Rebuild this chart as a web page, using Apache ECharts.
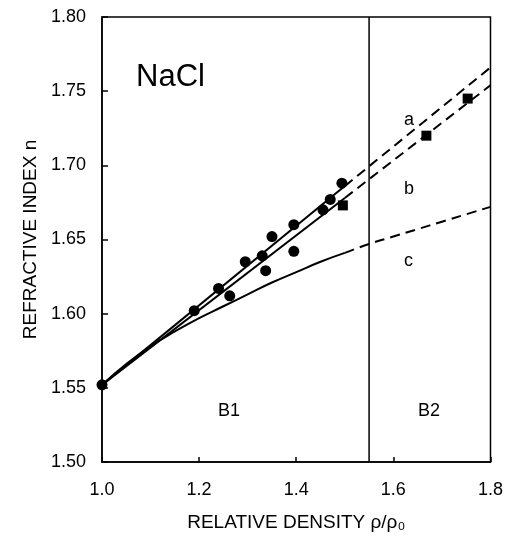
<!DOCTYPE html>
<html><head><meta charset="utf-8">
<script src="https://cdn.jsdelivr.net/npm/echarts@6/dist/echarts.min.js"></script>
<style>html,body{margin:0;padding:0;background:#fff}#c{width:506px;height:542px}</style>
</head><body><div id="c"></div>
<script>
// Measured circles
const circlePts = [[1.0,1.552],[1.19,1.602],[1.24,1.617],[1.263,1.612],[1.295,1.635],[1.33,1.639],[1.337,1.629],[1.35,1.652],[1.395,1.660],[1.395,1.642],[1.455,1.670],[1.47,1.677],[1.494,1.688]];
// Squares
const squarePts = [[1.496,1.673],[1.668,1.720],[1.753,1.745]];
// Line a (solid part, dashed extension)
const lineA_solid = [[1.0,1.552],[1.5,1.686]];
const lineA_dash = [[1.5,1.686],[1.8,1.766]];
// Line b
const lineB_solid = [[1.0,1.552],[1.5,1.678]];
const lineB_dash = [[1.5,1.678],[1.8,1.754]];
// Curve c
const curveC_x_solid = [1.0,1.05,1.1,1.15,1.2,1.25,1.3,1.35,1.4,1.45,1.5];
const curveC_y_solid = [1.552,1.566,1.578,1.588,1.597,1.605,1.613,1.621,1.628,1.635,1.641];
const curveC_x_dash = [1.5,1.55,1.6,1.65,1.7,1.75,1.8];
const curveC_y_dash = [1.641,1.647,1.652,1.657,1.662,1.667,1.672];
const boundaryX = 1.55;

const zip=(a,b)=>a.map((v,i)=>[v,b[i]]);
const F='"Liberation Sans", Arial, sans-serif';
const chart = echarts.init(document.getElementById('c'));
const lineStyle=(t)=>({color:'#000',width:2,type:t});
chart.setOption({
  animation:false,
  grid:{left:102,top:17,right:15,bottom:80,show:true,borderColor:'#000',borderWidth:1.5},
  xAxis:{type:'value',min:1.0,max:1.8,interval:0.2,
    name:'RELATIVE DENSITY ρ/ρ\u2080',nameLocation:'middle',nameGap:51,
    nameTextStyle:{fontFamily:F,fontSize:19,color:'#000'},
    axisLine:{lineStyle:{color:'#000',width:1.5}},
    axisTick:{inside:true,length:5,lineStyle:{color:'#000',width:1.5}},
    axisLabel:{fontFamily:F,fontSize:18,color:'#000',margin:19,formatter:v=>v.toFixed(1)},
    splitLine:{show:false}},
  yAxis:{type:'value',min:1.50,max:1.80,interval:0.05,
    name:'REFRACTIVE INDEX n',nameLocation:'middle',nameGap:61,
    nameTextStyle:{fontFamily:F,fontSize:19,color:'#000'},
    axisLine:{lineStyle:{color:'#000',width:1.5}},
    axisTick:{inside:true,length:6,lineStyle:{color:'#000',width:1.5}},
    axisLabel:{fontFamily:F,fontSize:18,color:'#000',margin:16,formatter:v=>v.toFixed(2)},
    splitLine:{show:false}},
  series:[
    {type:'line',data:lineA_solid,symbol:'none',lineStyle:lineStyle('solid')},
    {type:'line',data:lineA_dash,symbol:'none',lineStyle:lineStyle([10,6])},
    {type:'line',data:lineB_solid,symbol:'none',lineStyle:lineStyle('solid')},
    {type:'line',data:lineB_dash,symbol:'none',lineStyle:lineStyle([10,6])},
    {type:'line',data:zip(curveC_x_solid,curveC_y_solid),symbol:'none',smooth:true,lineStyle:lineStyle('solid')},
    {type:'line',data:zip(curveC_x_dash,curveC_y_dash),symbol:'none',smooth:true,lineStyle:lineStyle([10,6])},
    {type:'line',data:[[boundaryX,1.5],[boundaryX,1.8]],symbol:'none',lineStyle:{color:'#000',width:1.5}},
    {type:'scatter',data:circlePts,symbol:'circle',symbolSize:11,itemStyle:{color:'#000',opacity:1},clip:false},
    {type:'scatter',data:squarePts,symbol:'rect',symbolSize:10,itemStyle:{color:'#000',opacity:1}}
  ],
  graphic:[
    {type:'text',left:136,top:62,style:{text:'NaCl',font:'31px '+F,fill:'#000'}},
    {type:'text',left:404,top:111,style:{text:'a',font:'18px '+F,fill:'#000'}},
    {type:'text',left:404,top:180,style:{text:'b',font:'18px '+F,fill:'#000'}},
    {type:'text',left:404,top:252,style:{text:'c',font:'18px '+F,fill:'#000'}},
    {type:'text',left:218,top:402,style:{text:'B1',font:'18px '+F,fill:'#000'}},
    {type:'text',left:418,top:402,style:{text:'B2',font:'18px '+F,fill:'#000'}}
  ]
});
</script></body></html>
